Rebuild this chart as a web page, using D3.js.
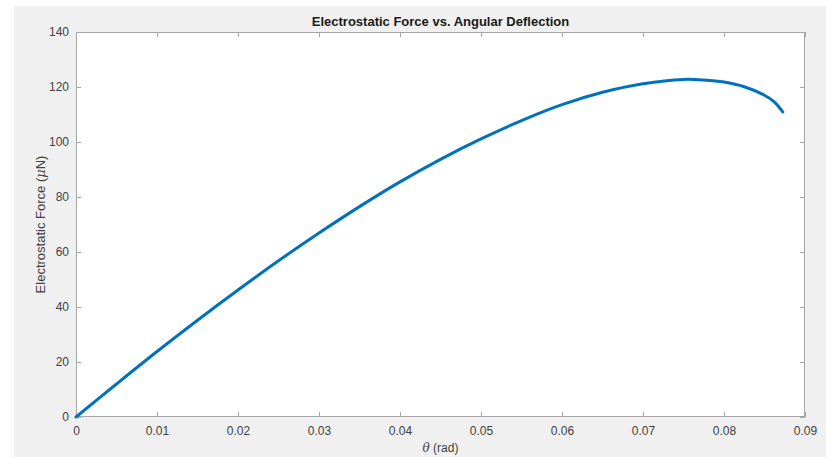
<!DOCTYPE html>
<html>
<head>
<meta charset="utf-8">
<script src="https://cdn.jsdelivr.net/npm/d3@7"></script>
<style>
  body { margin: 0; background: #fff; }
  text { font-family: "Liberation Sans", Arial, Helvetica, sans-serif; }
</style>
</head>
<body>
<svg id="chart" width="827" height="457"></svg>
<script>
// theta in rad, force in microNewton
var theta = [0, 0.005, 0.01, 0.015, 0.02, 0.025, 0.03, 0.035, 0.04, 0.045,
             0.05, 0.055, 0.06, 0.065, 0.07, 0.075, 0.0775, 0.08, 0.0825,
             0.085, 0.0862, 0.08727];
var force = [0, 12.0, 23.8, 35.2, 46.2, 56.8, 66.9, 76.5, 85.5, 93.7,
             101.1, 107.8, 113.6, 118.1, 121.2, 122.75, 122.55, 121.8, 120.1,
             117.0, 114.6, 110.9];
var xTicks = [0, 0.01, 0.02, 0.03, 0.04, 0.05, 0.06, 0.07, 0.08, 0.09];
var yTicks = [0, 20, 40, 60, 80, 100, 120, 140];

var svg = d3.select('#chart');
var plotL = 76, plotR = 805, plotT = 32, plotB = 417;

svg.append('rect')
  .attr('x', 14).attr('y', 6)
  .attr('width', 812).attr('height', 451)
  .style('fill', '#f0f0f0');

svg.append('rect')
  .attr('x', plotL).attr('y', plotT)
  .attr('width', plotR - plotL).attr('height', plotB - plotT)
  .style('fill', '#fff');

var x = d3.scaleLinear().domain([0, 0.09]).range([plotL, plotR]);
var y = d3.scaleLinear().domain([0, 140]).range([plotB, plotT]);

var axisColor = '#a6a6a6', textColor = '#404040';

function styleAxis(g) {
  g.select('.domain').remove();
  g.selectAll('.tick line').style('stroke', axisColor);
  g.selectAll('.tick text').style('fill', textColor).style('font-size', '12px');
}

// bottom / top
svg.append('g')
  .attr('transform', 'translate(0,' + plotB + ')')
  .call(d3.axisBottom(x).tickValues(xTicks).tickSizeInner(-5).tickSizeOuter(0)
    .tickPadding(9).tickFormat(d3.format('~g')))
  .call(styleAxis);
svg.append('g')
  .attr('transform', 'translate(0,' + plotT + ')')
  .call(d3.axisTop(x).tickValues(xTicks).tickSizeInner(-5).tickSizeOuter(0).tickFormat(''))
  .call(styleAxis);

// left / right
svg.append('g')
  .attr('transform', 'translate(' + plotL + ',0)')
  .call(d3.axisLeft(y).tickValues(yTicks).tickSizeInner(-5).tickSizeOuter(0).tickPadding(7))
  .call(styleAxis);
svg.append('g')
  .attr('transform', 'translate(' + plotR + ',0)')
  .call(d3.axisRight(y).tickValues(yTicks).tickSizeInner(-5).tickSizeOuter(0).tickFormat(''))
  .call(styleAxis);

// box
svg.append('rect')
  .attr('x', plotL + 0.5).attr('y', plotT + 0.5)
  .attr('width', plotR - plotL - 1).attr('height', plotB - plotT - 1)
  .style('fill', 'none')
  .style('stroke', axisColor)
  .style('stroke-width', 1);

var pts = theta.map(function(t, i) { return [t, force[i]]; });

svg.append('path')
  .datum(pts)
  .attr('d', d3.line()
    .x(function(d) { return x(d[0]); })
    .y(function(d) { return y(d[1]); })
    .curve(d3.curveCatmullRom))
  .style('fill', 'none')
  .style('stroke', '#0072bd')
  .style('stroke-width', 3)
  .style('stroke-linecap', 'round');

// title
svg.append('text')
  .attr('x', (plotL + plotR) / 2)
  .attr('y', 26)
  .attr('text-anchor', 'middle')
  .style('font-size', '13px')
  .style('font-weight', 'bold')
  .style('fill', '#1a1a1a')
  .text('Electrostatic Force vs. Angular Deflection');

// x label
var xl = svg.append('text')
  .attr('x', (plotL + plotR) / 2)
  .attr('y', 452)
  .attr('text-anchor', 'middle')
  .style('font-size', '12px')
  .style('fill', textColor);
xl.append('tspan').style('font-style', 'italic').style('font-family', 'DejaVu Serif, serif').text('θ');
xl.append('tspan').text(' (rad)');

// y label
var yl = svg.append('text')
  .attr('transform', 'translate(45,' + ((plotT + plotB) / 2) + ') rotate(-90)')
  .attr('text-anchor', 'middle')
  .style('font-size', '13px')
  .style('fill', textColor);
yl.append('tspan').text('Electrostatic Force (');
yl.append('tspan').style('font-style', 'italic').style('font-family', 'DejaVu Serif, serif').text('μ');
yl.append('tspan').text('N)');
</script>
</body>
</html>
